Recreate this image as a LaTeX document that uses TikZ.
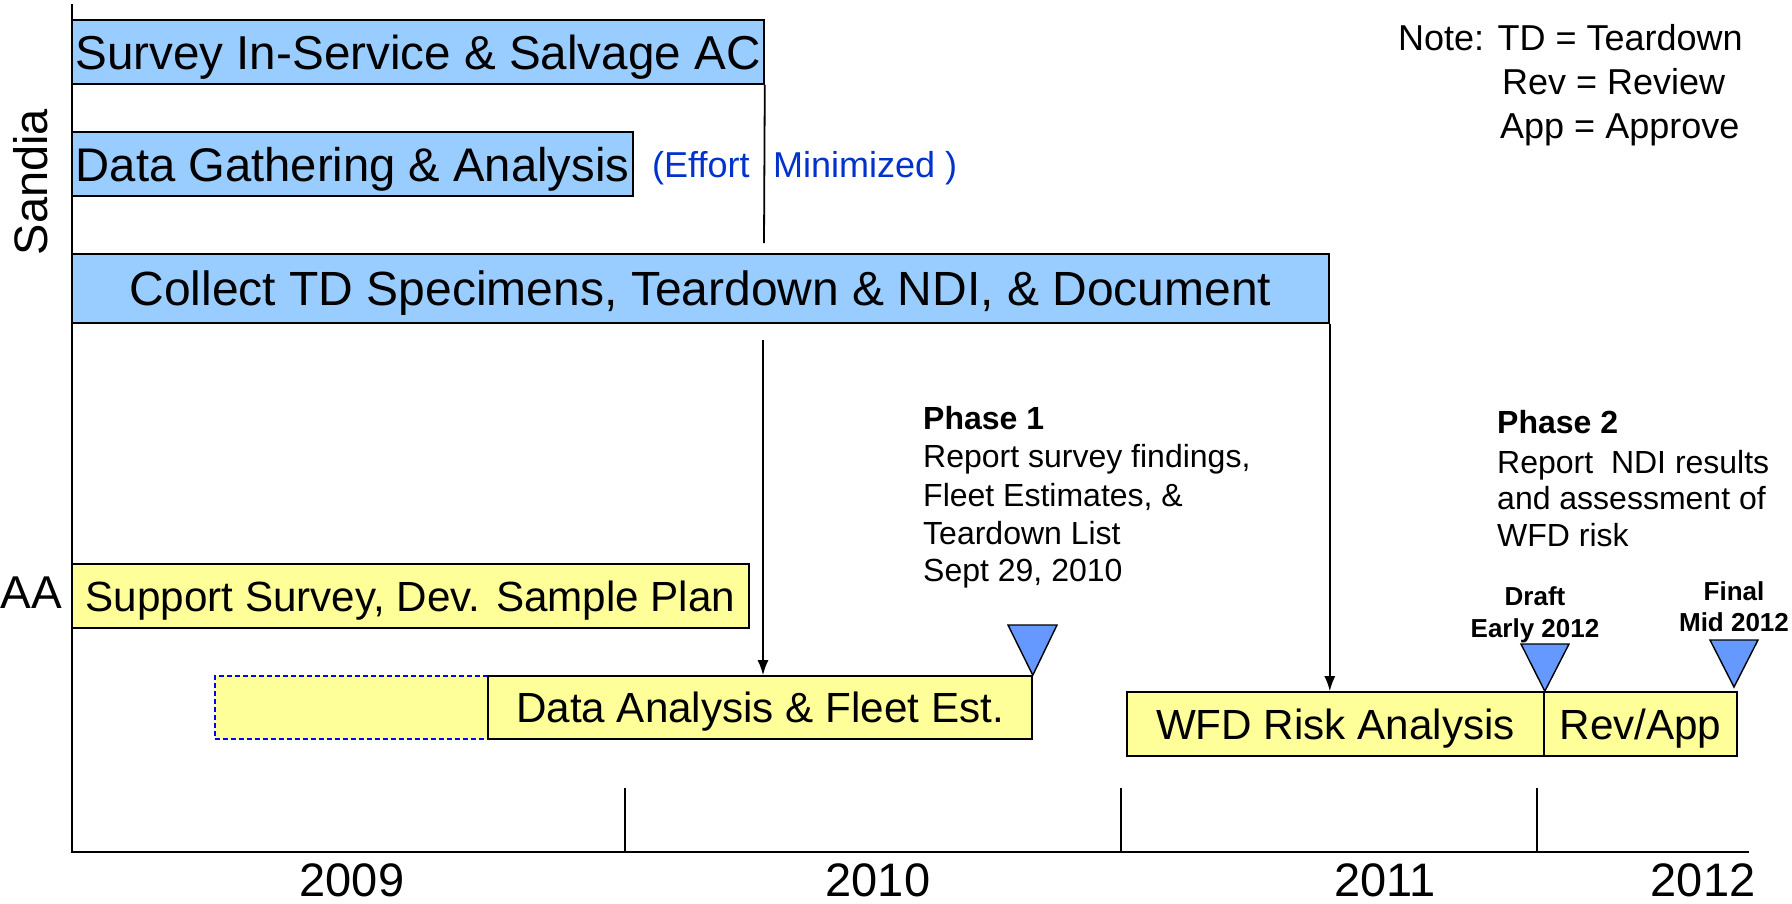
\documentclass[tikz,border=0pt]{standalone}
\usepackage{fontspec}
\setmainfont{Liberation Sans}
\usetikzlibrary{arrows.meta,calc}
\definecolor{lblue}{HTML}{99CCFF}
\definecolor{lyellow}{HTML}{FFFF99}
\definecolor{tblue}{HTML}{6699FF}
\definecolor{effblue}{HTML}{0033CC}
\begin{document}
\begin{tikzpicture}[x=1pt,y=-1pt,
  bar/.style={draw=black,line width=1.6pt,inner sep=0pt,text height=34.4pt,text depth=0pt,
    font=\fontsize{48}{56}\selectfont,anchor=center},
  bluebar/.style={bar,fill=lblue},
  yelbar/.style={bar,fill=lyellow,text height=30.2pt,font=\fontsize{42.2}{50}\selectfont},
  dashbox/.style={draw=blue,dash pattern=on 5pt off 3pt,line width=1.5pt,fill=lyellow,inner sep=0pt},
  milestone/.style={draw=black,line width=1.4pt,fill=tblue,line join=miter},
  big/.style={font=\fontsize{47}{56}\selectfont,inner sep=0pt},
  note/.style={font=\fontsize{36}{44}\selectfont,inner sep=0pt,anchor=base west},
  eff/.style={font=\fontsize{36}{44}\selectfont,inner sep=0pt,anchor=base west,text=effblue},
  phase/.style={font=\fontsize{32}{38}\selectfont,inner sep=0pt,anchor=base west},
  phasehead/.style={phase,font=\fontsize{32}{38}\selectfont\bfseries},
  mslabel/.style={font=\fontsize{26}{30}\selectfont\bfseries,inner sep=0pt,anchor=base},
  arr/.style={line width=1.8pt,-{Latex[length=15pt,width=11pt]}},
  axisline/.style={line width=2pt},
  tick/.style={line width=1.2pt},
  conn/.style={line width=1.8pt}
]
\useasboundingbox (0,0) rectangle (1792,903);

% axes
\coordinate (axtop) at (72,4);
\coordinate (axorig) at (72,852);
\coordinate (axend) at (1749,852);
\draw[axisline] (axtop) -- (axorig) -- (axend);
\coordinate (tk1) at (625,788);
\coordinate (tk2) at (1121,788);
\coordinate (tk3) at (1537,788);
\draw[tick] (tk1) -- (tk1 |- axorig);
\draw[tick] (tk2) -- (tk2 |- axorig);
\draw[tick] (tk3) -- (tk3 |- axorig);

% years
\node[big,anchor=base] (y2009) at (352,896) {2009};
\node[big,anchor=base] (y2010) at (878,896) {2010};
\node[big,anchor=base] (y2011) at (1385,896) {2011};
\node[big,anchor=base] (y2012) at (1703,896) {2012};

% row labels
\node[big,rotate=90] (sandia) at (31,182) {Sandia};
\node[big,anchor=base east,font=\fontsize{46}{54}\selectfont] (aa) at (62,608) {AA};

% Sandia bars
\node[bluebar,minimum width=692pt,minimum height=64pt,font=\fontsize{47.6}{56}\selectfont] (survey) at (418,52) {Survey In-Service \& Salvage AC};
\node[bluebar,minimum width=561pt,minimum height=64pt,font=\fontsize{47.2}{56}\selectfont] (gather) at (352.5,164) {Data Gathering \& Analysis};
\node[bluebar,minimum width=1257pt,minimum height=69pt] (collect) at (700.5,288.5) {Collect TD Specimens, Teardown \& NDI, \& Document};

% effort minimized
\node[eff] (eff1) at (652,177) {(Effort};
\node[eff] (eff2) at (773,177) {Minimized )};
\coordinate (vend) at (764,243);
\draw[conn] (survey.south east) -- (vend);

% AA bars
\node[yelbar,minimum width=677pt,minimum height=64pt] (support) at (410.5,596) {Support Survey, Dev. Sample Plan};
\node[dashbox,minimum width=273pt,minimum height=63pt] (dashed) at (351.5,707.5) {};
\node[yelbar,minimum width=544pt,minimum height=63pt] (analysis) at (760,707.5) {Data Analysis \& Fleet Est.};
\node[yelbar,minimum width=417pt,minimum height=64pt] (wfd) at (1335.5,724) {WFD Risk Analysis};
\node[yelbar,minimum width=193pt,minimum height=64pt] (revapp) at (1640.5,724) {Rev/App};

% arrows
\coordinate (a1start) at (763,340);
\draw[arr] (a1start) -- (a1start |- analysis.north);
\draw[arr] (collect.south east) -- (collect.south east |- wfd.north);

% milestones
\coordinate (m1a) at (1008,625);
\coordinate (m1b) at (1057,625);
\draw[milestone] (m1a) -- (m1b) -- (analysis.north east) -- cycle;
\coordinate (m2a) at (1521,644);
\coordinate (m2b) at (1569,644);
\draw[milestone] (m2a) -- (m2b) -- (wfd.north east) -- cycle;
\coordinate (m3a) at (1710,640);
\coordinate (m3b) at (1758,640);
\coordinate (m3tip) at (1734,687);
\draw[milestone] (m3a) -- (m3b) -- (m3tip) -- cycle;

\node[mslabel] (draft) at (1535,605) {Draft};
\node[mslabel] (early) at (1535,637) {Early 2012};
\node[mslabel] (final) at (1734,600) {Final};
\node[mslabel] (mid) at (1734,631) {Mid 2012};

% phase 1
\node[phasehead] (p1h) at (923,429) {Phase 1};
\node[phase] (p1a) at (923,467.5) {Report survey findings,};
\node[phase] (p1b) at (923,506) {Fleet Estimates, \&};
\node[phase] (p1c) at (923,544) {Teardown List};
\node[phase] (p1d) at (923,581.5) {Sept 29, 2010};

% phase 2
\node[phasehead] (p2h) at (1497,433) {Phase 2};
\node[phase] (p2a) at (1497,473.5) {Report~~NDI results};
\node[phase] (p2b) at (1497,509.5) {and assessment of};
\node[phase] (p2c) at (1497,546.5) {WFD risk};

% note
\node[note] (n1) at (1398,50) {Note: TD = Teardown};
\node[note] (n2) at (1502,94) {Rev = Review};
\node[note] (n3) at (1500,138) {App = Approve};
\end{tikzpicture}
\end{document}
